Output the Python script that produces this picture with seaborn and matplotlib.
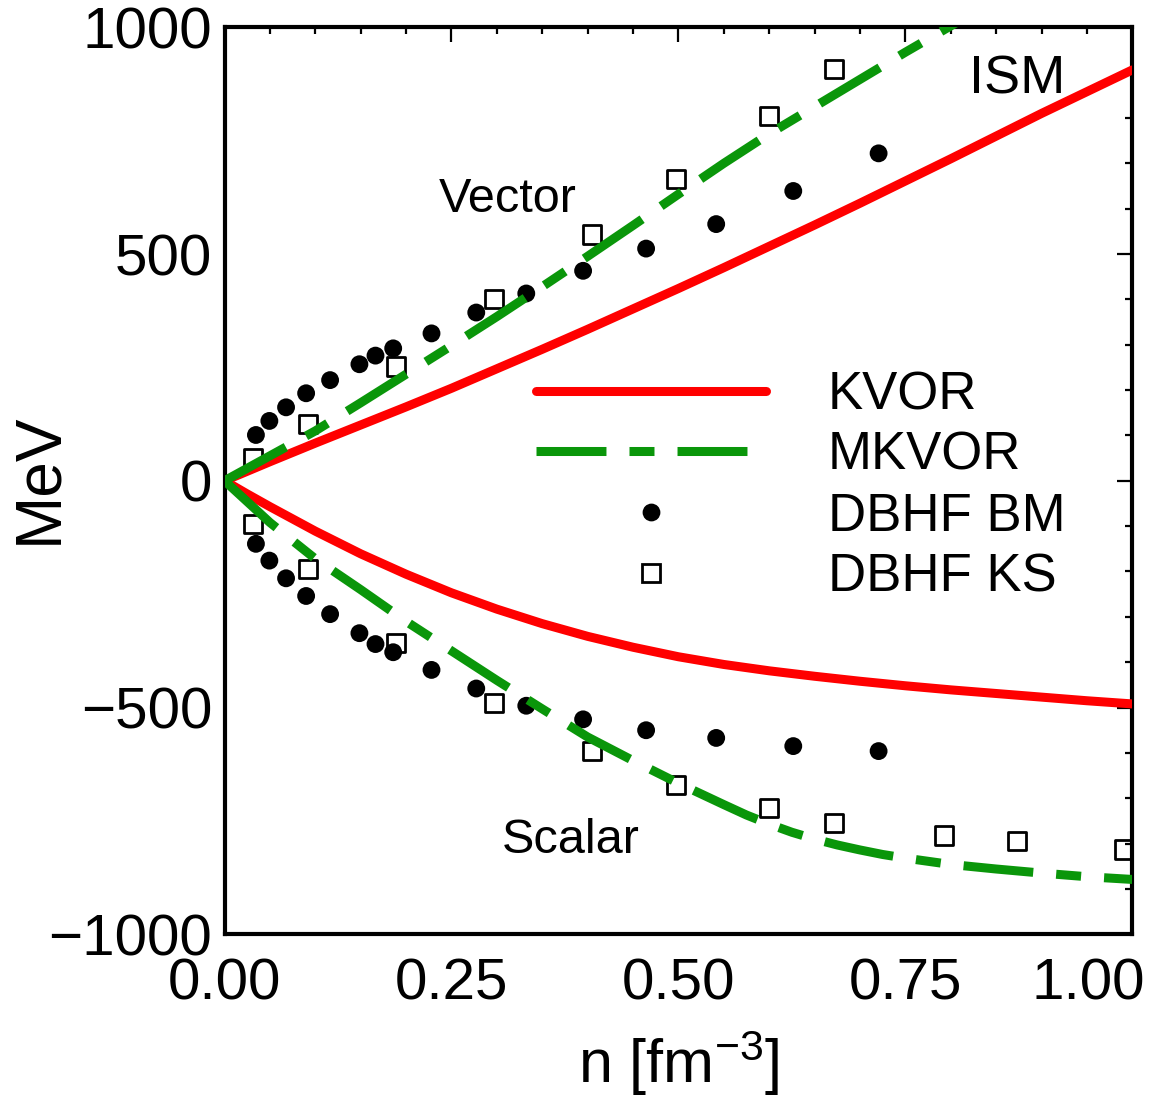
import numpy as np
import pandas as pd
import matplotlib
matplotlib.use('Agg')
import matplotlib.pyplot as plt
import seaborn as sns
from matplotlib.lines import Line2D
from matplotlib.ticker import MultipleLocator
from matplotlib.transforms import ScaledTranslation

# ---------------- data ----------------
kvor_vec_n = [0, 0.05, 0.1, 0.15, 0.2, 0.25, 0.3, 0.35, 0.4, 0.45, 0.5, 0.55, 0.6, 0.65, 0.7,
              0.75, 0.8, 0.85, 0.9, 0.95, 1.0]
kvor_vec_v = [0, 42, 83, 123, 163, 204, 247, 290, 334, 379, 424, 470, 517, 564, 612,
              661, 710, 760, 810, 858, 906]

kvor_sca_n = [0, 0.025, 0.05, 0.1, 0.15, 0.2, 0.25, 0.3, 0.35, 0.4, 0.45, 0.5, 0.55, 0.6, 0.65,
              0.7, 0.75, 0.8, 0.85, 0.9, 0.95, 1.0]
kvor_sca_v = [0, -29, -57, -111, -161, -206, -247, -283, -315, -343, -367, -388, -405, -419, -431,
              -442, -452, -461, -469, -477, -485, -492]

mkvor_vec_n = [0, 0.05, 0.1, 0.15, 0.2, 0.25, 0.3, 0.35, 0.4, 0.45, 0.5, 0.55, 0.6, 0.65, 0.7,
               0.75, 0.8, 0.85]
mkvor_vec_v = [0, 55, 110, 172, 235, 298, 362, 428, 495, 563, 632, 700, 765, 825, 885,
               945, 1003, 1060]

mkvor_sca_n = [0, 0.05, 0.1, 0.15, 0.2, 0.25, 0.3, 0.35, 0.4, 0.45, 0.5, 0.55, 0.575, 0.6, 0.625,
               0.65, 0.675, 0.7, 0.725, 0.75, 0.8, 0.85, 0.9, 0.95, 1.0]
mkvor_sca_v = [0, -92, -172, -240, -310, -375, -440, -503, -565, -617, -667, -714, -737, -757, -775,
               -790, -803, -814, -824, -832, -846, -856, -865, -873, -879]

bm_n = [0.0346, 0.0494, 0.0678, 0.0899, 0.1163, 0.1486, 0.1663, 0.1858, 0.228, 0.2773,
        0.3324, 0.395, 0.4644, 0.5416, 0.6265, 0.7205]
bm_vec = [101, 132, 162, 193, 222, 257, 276, 292, 325, 371, 413, 463, 512, 566, 639, 722]
bm_sca = [-139, -176, -215, -254, -294, -336, -360, -378, -417, -458, -496, -526, -550, -567, -585, -596]

ks_n_vec = [0.0318, 0.0924, 0.1887, 0.2973, 0.4044, 0.4977, 0.5996, 0.6712]
ks_vec = [51, 125, 252, 400, 543, 666, 805, 908]
ks_n_sca = [0.0318, 0.0924, 0.1887, 0.2973, 0.4044, 0.4977, 0.5996, 0.6712, 0.793, 0.8734, 0.991]
ks_sca = [-95, -194, -358, -489, -596, -671, -722, -755, -782, -794, -813]

legend_labels = ["KVOR", "MKVOR", "DBHF BM", "DBHF KS"]
xticks = [0.0, 0.25, 0.5, 0.75, 1.0]
xtick_labels = ["0.00", "0.25", "0.50", "0.75", "1.00"]
yticks = [-1000, -500, 0, 500, 1000]

# ---------------- style ----------------
sns.set_style("white")
plt.rcParams['font.family'] = ['Liberation Sans', 'DejaVu Sans']
plt.rcParams['mathtext.fontset'] = 'custom'
plt.rcParams['mathtext.rm'] = 'Liberation Sans'
plt.rcParams['mathtext.it'] = 'Liberation Sans:italic'
plt.rcParams['axes.unicode_minus'] = True
for k in ['text.color', 'axes.labelcolor', 'xtick.color', 'ytick.color', 'axes.edgecolor']:
    plt.rcParams[k] = 'black'

RED = '#ff0000'
GREEN = '#0a960a'
LW = 6.5
DASH = (0, (7.75, 2.55, 2.77, 2.55))

fig = plt.figure(figsize=(11.49, 11.04), dpi=100)
ax = fig.add_axes([0.1954, 0.1537, 0.7901, 0.8216])

# markers
sns.scatterplot(x=bm_n, y=bm_vec, ax=ax, marker='o', s=165, color='black',
                edgecolor='none', zorder=2)
sns.scatterplot(x=bm_n, y=bm_sca, ax=ax, marker='o', s=165, color='black',
                edgecolor='none', zorder=2)
for xs, ys in [(ks_n_vec, ks_vec), (ks_n_sca, ks_sca)]:
    sns.scatterplot(x=xs, y=ys, ax=ax, marker='s', s=170, color='black', zorder=2)
    coll = ax.collections[-1]
    coll.set_facecolor('none')
    coll.set_edgecolor('black')
    coll.set_linewidth(2.0)

# lines
sns.lineplot(x=kvor_vec_n, y=kvor_vec_v, ax=ax, color=RED, lw=LW, zorder=3)
sns.lineplot(x=kvor_sca_n, y=kvor_sca_v, ax=ax, color=RED, lw=LW, zorder=3)
sns.lineplot(x=mkvor_vec_n, y=mkvor_vec_v, ax=ax, color=GREEN, lw=LW, linestyle=DASH, zorder=3)
sns.lineplot(x=mkvor_sca_n, y=mkvor_sca_v, ax=ax, color=GREEN, lw=LW, linestyle=DASH, zorder=3)

ax.set_xlim(0, 1.0)
ax.set_ylim(-1000, 1000)
ax.set_xticks(xticks)
ax.set_xticklabels(xtick_labels)
ax.set_yticks(yticks)
ax.xaxis.set_minor_locator(MultipleLocator(0.05))
ax.yaxis.set_minor_locator(MultipleLocator(100))
ax.tick_params(which='both', direction='in', top=True, right=True, color='black',
               labelcolor='black')
ax.tick_params(which='major', length=11, width=1.6, labelsize=42, pad=17)
ax.tick_params(which='minor', length=5, width=1.6)
ax.tick_params(axis='y', which='major', pad=9)
for sp in ax.spines.values():
    sp.set_linewidth(3.0)
    sp.set_color('black')

# shift the last x tick label left (as in the reference)
lbls = ax.get_xticklabels()
lbls[-1].set_transform(lbls[-1].get_transform() + ScaledTranslation(-0.44, 0, fig.dpi_scale_trans))

ax.set_xlabel(r'n [fm$^{-3}$]', fontsize=44, va='center', color='black')
ax.xaxis.set_label_coords(0.5, -0.142)
ax.set_ylabel('MeV', fontsize=46, va='center', color='black')
ax.yaxis.set_label_coords(-0.204, 0.503)

ax.text(0.2357, 593, 'Vector', fontsize=35, ha='left', va='baseline', color='black')
ax.text(0.82, 854, 'ISM', fontsize=39, ha='left', va='baseline', color='black')
ax.text(0.305, -821, 'Scalar', fontsize=35, ha='left', va='baseline', color='black')

handles = [
    Line2D([], [], color=RED, lw=LW),
    Line2D([], [], color=GREEN, lw=LW, linestyle=DASH),
    Line2D([], [], color='black', marker='o', ms=12.8, mec='none', ls='none'),
    Line2D([], [], color='black', marker='s', ms=13, mfc='none', mec='black', mew=2.0, ls='none'),
]
leg = ax.legend(handles, legend_labels, loc='center left', bbox_to_anchor=(0.343, 0.494),
                frameon=False, fontsize=38, handlelength=4.36, handletextpad=1.17,
                labelspacing=0.2, borderpad=0, borderaxespad=0, numpoints=1)
for t in leg.get_texts():
    t.set_color('black')

fig.savefig('out.png', dpi=100)
